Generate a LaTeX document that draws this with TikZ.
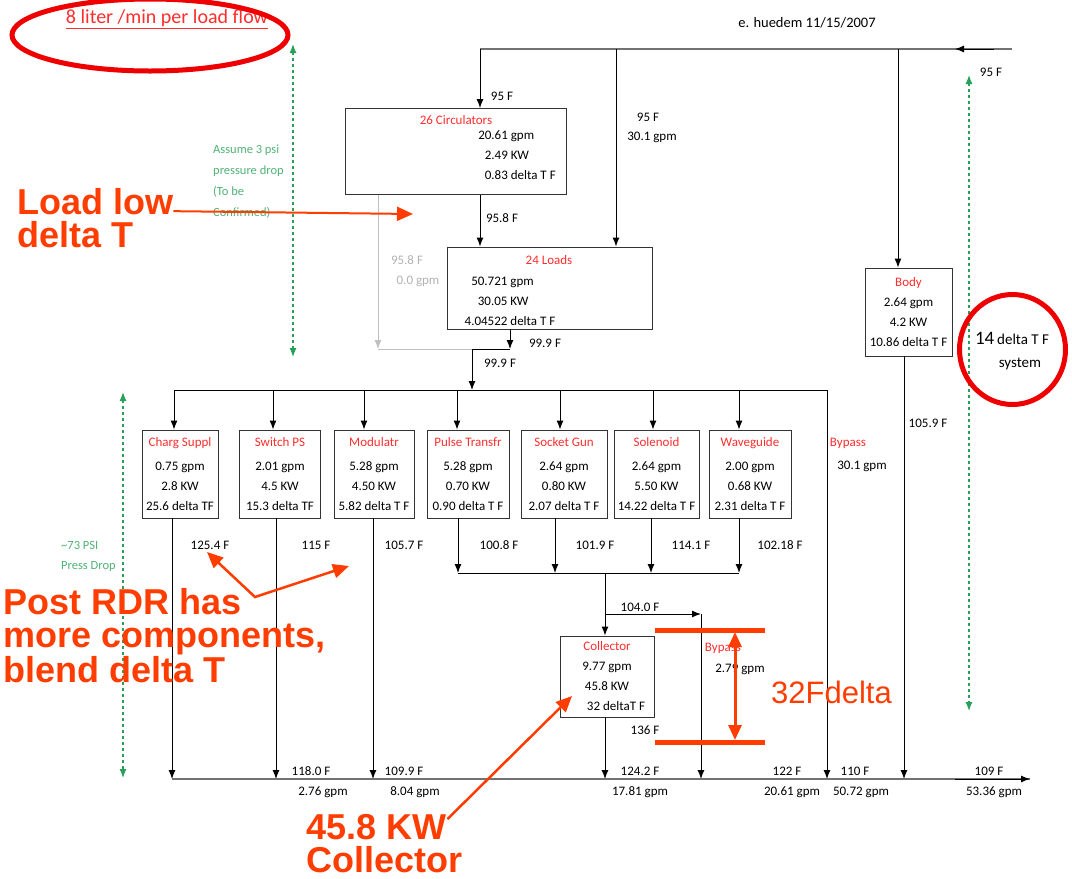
\documentclass[tikz,border=0pt]{standalone}
\usepackage{fontspec}
\setmainfont{Carlito}
\newfontfamily\arialfont{Liberation Sans}
\usetikzlibrary{arrows.meta}

\definecolor{titred}{RGB}{255,45,45}
\definecolor{annot}{RGB}{255,61,0}
\definecolor{ringred}{RGB}{238,0,0}
\definecolor{grn}{RGB}{40,160,90}
\definecolor{grntxt}{RGB}{80,178,118}

\tikzset{
  box/.style={draw=black!80, line width=0.9pt, rectangle, inner sep=0pt, align=center, font=\fontsize{13}{20}\selectfont},
  val/.style={font=\fontsize{13}{20}\selectfont, inner sep=0pt},
  ttl/.style={val, text=titred},
  flow/.style={draw=black, line width=1pt, -{Latex[length=9pt,width=7pt]}},
  pipe/.style={draw=black, line width=1pt},
  supplyline/.style={draw=black!55, line width=2pt},
  ghostline/.style={draw=black!25, line width=1pt},
  dimarrow/.style={draw=grn, dashed, line width=1.2pt, {Latex[length=9pt,width=7pt]}-{Latex[length=9pt,width=7pt]}},
  grntext/.style={font=\fontsize{12.5}{21}\selectfont, text=grntxt, inner sep=0pt, anchor=base west},
  bignote/.style={font=\arialfont\bfseries\fontsize{36}{33}\selectfont, text=annot, inner sep=0pt, align=left, anchor=south west},
  pointer/.style={draw=annot, line width=2.5pt, -{Triangle[length=16pt,width=14pt]}},
  ringmark/.style={draw=ringred, line width=5pt},
  redbar/.style={draw=annot, line width=5pt},
}

\begin{document}
\begin{tikzpicture}[x=1pt, y=-1pt]
\useasboundingbox (0,0) rectangle (1072,879);
% Paths, nodes and wires:
\coordinate (sIn) at (1012,49);
\coordinate (sA) at (480,49);
\coordinate (sB) at (616,49);
\coordinate (sC) at (898,49);
\coordinate (sTail) at (994,49);
\coordinate (sTip) at (955,49);
\draw[supplyline] (sIn) -- (sA);
\draw[flow] (sTail) -- (sTip);

\node[box, minimum width=221pt, minimum height=86pt] (circ) at (456,151.5) {};
\node[box, minimum width=205pt, minimum height=82pt] (load) at (549.5,288) {};
\node[box, minimum width=87pt, minimum height=88pt] (body) at (908.5,312) {\textcolor{titred}{Body}\\2.64 gpm\\4.2 KW\\10.86 delta T F};
\node[ttl] (circT) at (456,120) {26 Circulators};
\node[val] (circV) at (517,155) {\begin{tabular}{@{}r@{ }l@{}}20.61&gpm\\2.49&KW\\0.83&delta T F\end{tabular}};
\node[ttl] (loadT) at (549,260) {24 Loads};
\node[val] (loadV) at (510,301) {\begin{tabular}{@{}r@{ }l@{}}50.721&gpm\\30.05&KW\\4.04522&delta T F\end{tabular}};

\draw[flow] (sA) -- (sA |- circ.north);
\draw[flow] (sB) -- (sB |- load.north);
\draw[flow] (sC) -- (sC |- body.north);
\draw[flow] (circ.south -| sA) -- (load.north -| sA);

% zero flow loop
\coordinate (gB) at (378,349);
\coordinate (jn) at (472,349);
\coordinate (lo) at (510,349);
\draw[ghostline, -{Latex[length=9pt,width=7pt]}] (circ.south -| gB) -- (gB);
\draw[ghostline] (gB) -- (jn);
\draw[flow] (load.south -| lo) -- (lo);
\draw[pipe] (lo) -- (jn);

% branch header and return line
\coordinate (hL) at (174,390);
\coordinate (hR) at (827,390);
\coordinate (rL) at (172,779);
\coordinate (rR) at (1030,779);
\coordinate (rTail) at (955,779);
\coordinate (mix) at (605,573);
\coordinate (bOut) at (904,400);
\draw[flow] (jn) -- (jn |- hL);
\draw[pipe] (hL) -- (hR);
\draw[supplyline] (rL) -- (rR);
\draw[flow] (rTail) -- (rR);
\draw[flow] (hR) -- (hR |- rL);
\draw[flow] (body.south -| bOut) -- (bOut |- rL);

\foreach \n/\cx/\w/\xi/\xo/\tg/\nm/\va/\vb/\vc in {
  chg/180/76/174/172/rL/Charg Suppl/0.75 gpm/2.8 KW/25.6 delta TF,
  sw/280/81/273/276/rL/Switch PS/2.01 gpm/4.5 KW/15.3 delta TF,
  mod/374/80/364/373/rL/Modulatr/5.28 gpm/4.50 KW/5.82 delta T F,
  pt/468/82/457/458/mix/Pulse Transfr/5.28 gpm/0.70 KW/0.90 delta T F,
  sg/564/86/560/555/mix/Socket Gun/2.64 gpm/0.80 KW/2.07 delta T F,
  sol/656.5/85/653/651/mix/Solenoid/2.64 gpm/5.50 KW/14.22 delta T F,
  wg/750/82/739/739/mix/Waveguide/2.00 gpm/0.68 KW/2.31 delta T F}{
  \node[box, minimum width=\w pt, minimum height=88pt] (\n) at (\cx,474) {\textcolor{titred}{\nm}\\[4pt]\va\\\vb\\\vc};
  \coordinate (\n-in) at (\xi,390);
  \coordinate (\n-out) at (\xo,574);
  \draw[flow] (\n-in) -- (\n-in |- \n.north);
  \draw[flow] (\n.south -| \n-out) -- (\n-out |- \tg);
}
\draw[pipe] (pt-out |- mix) -- (wg-out |- mix);

% collector and its bypass
\node[box, minimum width=94pt, minimum height=81pt] (coll) at (607,676.5) {\textcolor{titred}{Collector}\\9.77 gpm\\45.8 KW\\\hspace*{18pt}32 deltaT F};
\coordinate (byp) at (701,614);
\draw[flow] (mix) -- (mix |- coll.north);
\draw[flow] (mix |- byp) -- (byp);
\draw[flow] (byp) -- (byp |- rL);
\draw[flow] (coll.south -| mix) -- (mix |- rL);

% temperatures and flows
\foreach \x/\y/\t [count=\i] in {
  502/96/95 F, 648/117/95 F, 652/137/30.1 gpm, 502/218/95.8 F,
  545/343/99.9 F, 500/363/99.9 F, 991/72/95 F, 928/423/105.9 F,
  210/545/125.4 F, 316/545/115 F, 404/545/105.7 F, 499/545/100.8 F,
  595/545/101.9 F, 691/545/114.1 F, 780/545/102.18 F, 862/466/30.1 gpm,
  640/607/104.0 F, 645/730/136 F, 740/669/2.79 gpm,
  311/771/118.0 F, 323/792/2.76 gpm, 404/771/109.9 F, 415/792/8.04 gpm,
  640/771/124.2 F, 640/792/17.81 gpm, 787/771/122 F, 792/792/20.61 gpm,
  855/771/110 F, 861/792/50.72 gpm, 989/771/109 F, 994/792/53.36 gpm}
  \node[val] (lbl\i) at (\x,\y) {\t};
\node[val, text=black!30] (gT) at (407,260) {95.8 F};
\node[val, text=black!30] (gQ) at (418,281) {0.0 gpm};
\node[ttl] (bypA) at (848,443) {Bypass};
\node[ttl] (bypB) at (723,648) {Bypass};
\node[val, font=\fontsize{14.5}{17}\selectfont] (date) at (807,23) {e. huedem 11/15/2007};

% pressure drops
\coordinate (gA1) at (293,44);
\coordinate (gA2) at (293,357);
\coordinate (gB1) at (123,392);
\coordinate (gB2) at (123,778);
\coordinate (gC1) at (969,75);
\coordinate (gC2) at (969,711);
\draw[dimarrow] (gA1) -- (gA2);
\draw[dimarrow] (gB1) -- (gB2);
\draw[dimarrow] (gC1) -- (gC2);
\foreach \t [count=\i] in {Assume 3 psi, pressure drop, {(To be}, Confirmed)}
  \node[grntext] (asm\i) at (213,132.5+21*\i) {\t};
\node[grntext] (psi1) at (61,549.5) {\textasciitilde73 PSI};
\node[grntext] (psi2) at (61,569.5) {Press Drop};

% red markup
\node[val, font=\fontsize{20}{24}\selectfont, text=titred] (flowT) at (167,19) {\underline{8 liter /min per load flow}};
\draw[ringmark] (150,35) ellipse [x radius=138, y radius=36];
\node[val] (sys1) at (1012,338) {{\fontsize{19}{20}\selectfont 14} {\fontsize{15}{20}\selectfont delta T F}};
\node[val, font=\fontsize{15}{20}\selectfont] (sys2) at (1020,364) {system};
\draw[ringmark] (1012.5,349.5) ellipse [x radius=53, y radius=55];

\node[bignote] (ll) at (17,248) {Load low\\delta T};
\coordinate (llTip) at (413,214);
\draw[pointer, line width=2pt] ([yshift=-23pt]ll.north east) -- (llTip);

\node[bignote] (rdr) at (3,683) {Post RDR has\\more components,\\blend delta T};
\coordinate (rdrV) at (255,597);
\coordinate (rdrA) at (207,552);
\coordinate (rdrB) at (349,566);
\draw[pointer, {Triangle[length=16pt,width=14pt]}-{Triangle[length=16pt,width=14pt]}] (rdrA) -- (rdrV) -- (rdrB);

\node[bignote] (kw) at (306,873) {45.8 KW\\Collector};
\coordinate (kwTip) at (572,696);
\draw[pointer] ([xshift=-15pt, yshift=-5pt]kw.north east) -- (kwTip);

\coordinate (barT) at (655,630);
\coordinate (barB) at (655,742);
\coordinate (dT) at (735,632);
\coordinate (dB) at (735,740);
\draw[redbar] (barT) -- ++(110,0);
\draw[redbar] (barB) -- ++(110,0);
\draw[draw=annot, line width=3pt, {Triangle[length=15pt,width=13pt]}-{Triangle[length=15pt,width=13pt]}] (dT) -- (dB);
\node[font=\arialfont\fontsize{31}{31}\selectfont, text=annot, inner sep=0pt, anchor=base west] (dlt) at (771,703) {32Fdelta};
\end{tikzpicture}
\end{document}
